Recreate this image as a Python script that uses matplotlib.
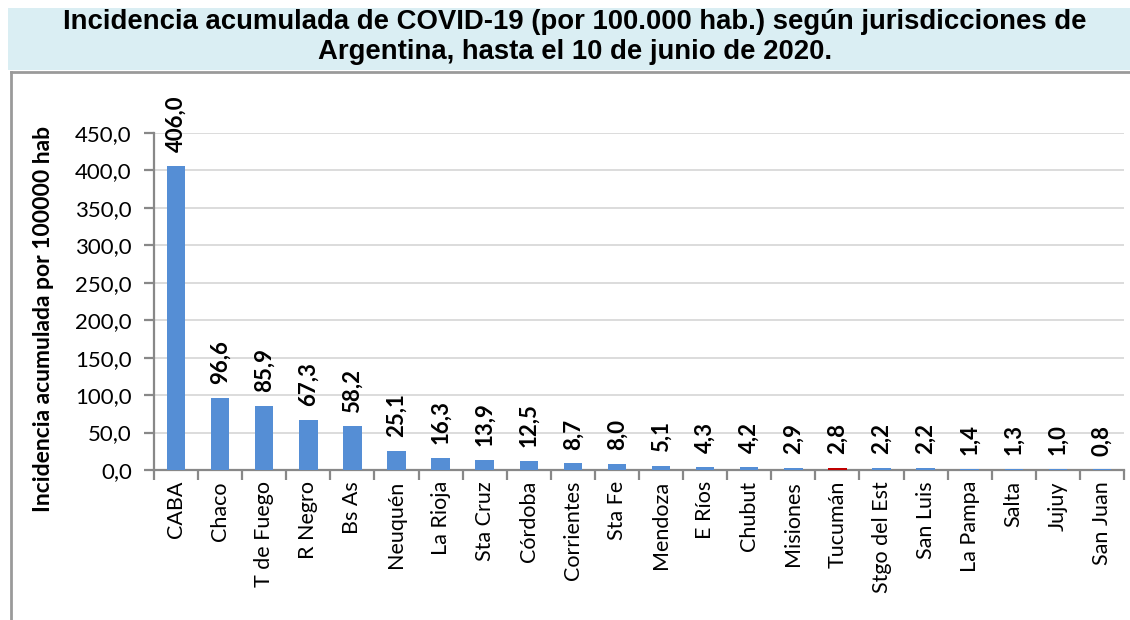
import matplotlib
matplotlib.use("Agg")
import matplotlib.pyplot as plt
from matplotlib.patches import Rectangle
from matplotlib.lines import Line2D
from matplotlib.ticker import FuncFormatter, FixedLocator

categories = ["CABA", "Chaco", "T de Fuego", "R Negro", "Bs As", "Neuquén", "La Rioja",
              "Sta Cruz", "Córdoba", "Corrientes", "Sta Fe", "Mendoza", "E Ríos", "Chubut",
              "Misiones", "Tucumán", "Stgo del Est", "San Luis", "La Pampa", "Salta",
              "Jujuy", "San Juan"]
values = [406.0, 96.6, 85.9, 67.3, 58.2, 25.1, 16.3, 13.9, 12.5, 8.7, 8.0, 5.1, 4.3, 4.2,
          2.9, 2.8, 2.2, 2.2, 1.4, 1.3, 1.0, 0.8]
highlight = "Tucumán"
yticks = [0, 50, 100, 150, 200, 250, 300, 350, 400, 450]

title = ("Incidencia acumulada de COVID-19 (por 100.000 hab.) según jurisdicciones de\n"
         "Argentina, hasta el 10 de junio de 2020.")
ylabel = "Incidencia acumulada por 100000 hab"

W, H = 1130, 620
fig = plt.figure(figsize=(W / 100, H / 100), dpi=100)

def fx(px):
    return px / W

def fy(py):
    return 1 - py / H

# Title banner
fig.patches.append(Rectangle((fx(8), fy(70)), fx(1130 - 8), (70 - 8) / H,
                             transform=fig.transFigure, facecolor="#DAEEF3",
                             edgecolor="none", zorder=0))
fig.text(fx(575), fy(37), title, ha="center", va="center", fontsize=19.8,
         fontweight="bold", family="Liberation Sans", linespacing=1.2)

# Frame
fig.lines.append(Line2D([fx(11), fx(11)], [fy(72), 0], transform=fig.transFigure,
                        color="#9A9A9A", lw=2))
fig.lines.append(Line2D([fx(11), 1], [fy(72), fy(72)], transform=fig.transFigure,
                        color="#9A9A9A", lw=2))

ax = fig.add_axes([fx(154), fy(470), fx(1124 - 154), (470 - 133) / H])
colors = ["#C00000" if c == highlight else "#558ED5" for c in categories]
x = list(range(len(categories)))
bars = ax.bar(x, values, width=0.42, color=colors, zorder=3)

ax.set_xlim(-0.5, len(categories) - 0.5)
ax.set_ylim(0, 450)
ax.yaxis.set_major_locator(FixedLocator(yticks))
ax.yaxis.set_major_formatter(FuncFormatter(lambda v, p: f"{v:.1f}".replace(".", ",")))
ax.grid(axis="y", color="#D9D9D9", lw=1.3, zorder=0)
ax.set_axisbelow(True)

for s in ["top", "right"]:
    ax.spines[s].set_visible(False)
for s in ["left", "bottom"]:
    ax.spines[s].set_color("#888888")
    ax.spines[s].set_linewidth(1.6)

ax.set_xticks(x)
ax.set_xticklabels(categories, rotation=90, fontsize=15.5, family="Lato")
ax.tick_params(axis="x", length=0, pad=8)
ax.set_xticks([i - 0.5 for i in range(len(categories) + 1)], minor=True)
ax.tick_params(axis="x", which="minor", length=7, width=1.6, color="#888888")
ax.tick_params(axis="y", length=7, width=1.6, color="#888888", labelsize=16, pad=9)
for lab in ax.get_yticklabels():
    lab.set_family("Lato")

fig.text(fx(44), fy(319), ylabel, rotation=90, ha="center", va="center",
         fontsize=16.5, fontweight="bold", family="Lato")

for xi, v in zip(x, values):
    ax.annotate(f"{v:.1f}".replace(".", ","), (xi, v), xytext=(0, 10),
                textcoords="offset points", rotation=90, ha="center", va="bottom",
                fontsize=16, fontweight="bold", family="Lato")

fig.savefig("out.png", dpi=100)
